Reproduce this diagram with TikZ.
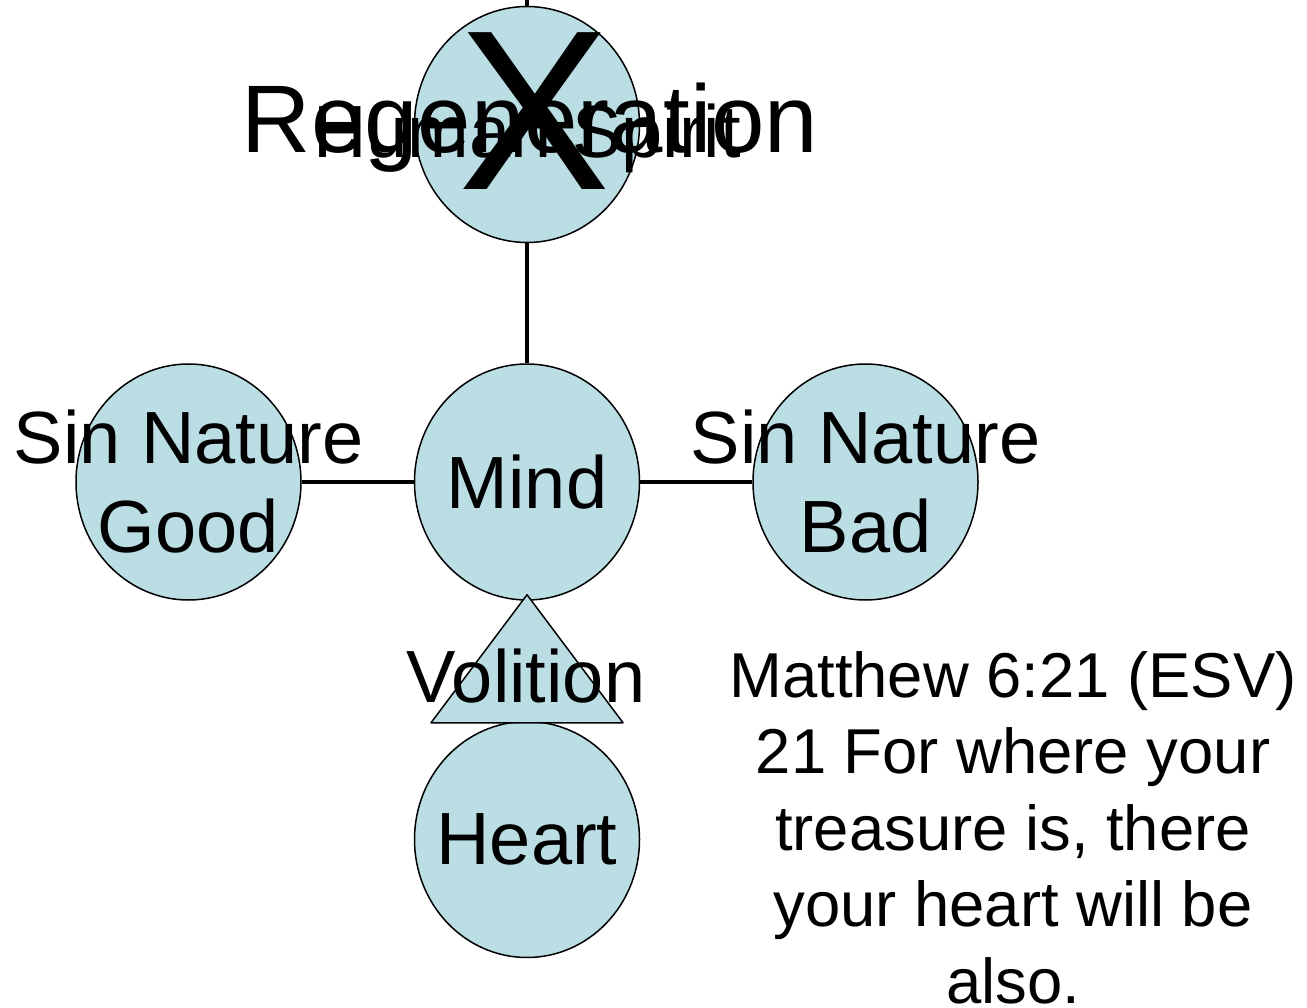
\documentclass[tikz,border=0pt]{standalone}
\usepackage{fontspec}
\setmainfont{Liberation Sans}
\usetikzlibrary{shapes.geometric, positioning, calc, backgrounds}
\definecolor{partblue}{RGB}{187,222,228}

\begin{document}
\begin{tikzpicture}[
    x=1pt, y=-1pt,
    node distance=120pt and 112pt,
    part/.style={ellipse, draw=black, line width=1.5pt, fill=partblue, minimum width=225pt, minimum height=236pt, inner sep=0pt},
    word/.style={align=center, inner sep=0pt, font=\fontsize{74}{89}\selectfont},
    verse/.style={align=center, inner sep=0pt, font=\fontsize{63.4}{76.5}\selectfont},
    link/.style={line width=4.2pt}
]
\useasboundingbox (0,0) rectangle (1307,1008);
\node[part] (mind) at (527,482) {};
\node[part,left=of mind] (good) {};
\node[part,right=of mind] (bad) {};
\node[part,above=of mind] (spirit) {};
\node[part,below=of mind] (heart) {};
\coordinate (topend) at (527,0);

\begin{scope}[on background layer]
\draw[link] (good) -- (mind);
\draw[link] (mind) -- (bad);
\draw[link] (mind) -- (topend);
\end{scope}

\draw[fill=partblue, line width=1.5pt, line join=round] ($(mind.south)+(0,-6)$) -- ($(heart.north)+(96,2)$) -- ($(heart.north)+(-96,2)$) -- cycle;

\node[word] (goodtext) at (good) {Sin Nature\\Good};
\node[word] (badtext) at (bad) {Sin Nature\\Bad};
\node[word] (mindtext) at (mind) {Mind};
\node[word] (hearttext) at (heart) {Heart};
\node[word,anchor=base] (spirittext) at (527,158) {Human Spirit};
\node[word,anchor=base,font=\fontsize{96}{96}\selectfont] (regen) at (530,153) {Regeneration};
\node[word,anchor=base,font=\fontsize{228}{228}\selectfont] (cross) at (535,190) {X};
\node[word,anchor=base] (volition) at (526,702) {Volition};
\node[verse,anchor=north] (matthew) at (1013,651) {Matthew 6:21 (ESV)\\21 For where your\\treasure is, there\\your heart will be\\also.};
\end{tikzpicture}
\end{document}
